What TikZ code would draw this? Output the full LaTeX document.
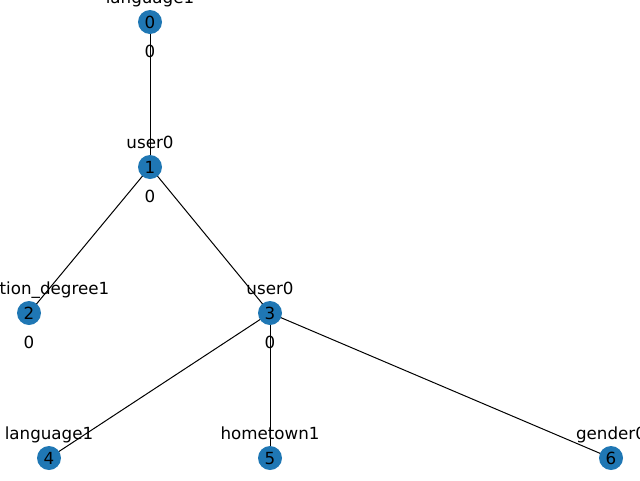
\documentclass[tikz,border=0pt]{standalone}
\usepackage{fontspec}
\setmainfont{DejaVu Sans}
\begin{document}
\begin{tikzpicture}[x=1pt,y=-1pt,
  every node/.style={font=\fontsize{16.7}{20}\selectfont},
  vertex/.style={circle,fill={rgb,255:red,31;green,119;blue,180},minimum size=24pt,inner sep=0pt},
  txt/.style={anchor=base,inner sep=0pt},
  edge/.style={draw=black,line width=1pt}]
\useasboundingbox (0,0) rectangle (640,480);
\clip (0,0) rectangle (640,480);
% node positions
\coordinate (p0) at (150,22);
\coordinate (p1) at (150,167);
\coordinate (p2) at (29,313);
\coordinate (p3) at (270,313);
\coordinate (p4) at (49,458);
\coordinate (p5) at (270,458);
\coordinate (p6) at (611,458);
% edges
\draw[edge] (p0) -- (p1);
\draw[edge] (p1) -- (p2);
\draw[edge] (p1) -- (p3);
\draw[edge] (p3) -- (p4);
\draw[edge] (p3) -- (p5);
\draw[edge] (p3) -- (p6);
% vertices with their indices
\foreach \i in {0,...,6} {
  \node[vertex] (v\i) at (p\i) {};
  \node[txt] (n\i) at ([shift={(0,6)}]p\i) {\i};
}
% labels above
\node[txt] (t0) at ([shift={(0,-19)}]p0) {language1};
\node[txt] (t1) at ([shift={(0,-19)}]p1) {user0};
\node[txt] (t2) at ([shift={(0,-19)}]p2) {education\_degree1};
\node[txt] (t3) at ([shift={(0,-19)}]p3) {user0};
\node[txt] (t4) at ([shift={(0,-19)}]p4) {language1};
\node[txt] (t5) at ([shift={(0,-19)}]p5) {hometown1};
\node[txt] (t6) at ([shift={(0,-19)}]p6) {gender0};
% labels below
\node[txt] (b0) at ([shift={(0,35)}]p0) {0};
\node[txt] (b1) at ([shift={(0,35)}]p1) {0};
\node[txt] (b2) at ([shift={(0,35)}]p2) {0};
\node[txt] (b3) at ([shift={(0,35)}]p3) {0};
\end{tikzpicture}
\end{document}
